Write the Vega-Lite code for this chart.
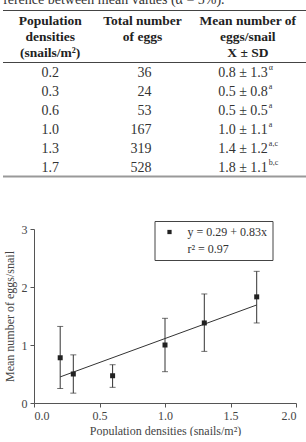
{
  "$schema": "https://vega.github.io/schema/vega-lite/v6.json",
  "padding": {"left": 2, "top": -8, "right": 0, "bottom": 0},
  "background": "white",
  "config": {
    "view": {"stroke": null},
    "font": "Liberation Serif",
    "text": {"font": "Liberation Serif"},
    "axis": {"labelFont": "Liberation Serif", "titleFont": "Liberation Serif", "grid": false, "domainColor": "#555", "tickColor": "#555", "labelColor": "#444", "titleColor": "#444", "labelFontSize": 12, "titleFontSize": 12, "titleFontWeight": "normal"},
    "legend": {"labelFont": "Liberation Serif"}
  },
  "spacing": 47,
  "vconcat": [
    {
      "spacing": 0,
      "vconcat": [
        {
          "width": 273,
          "height": 52,
          "data": {"values": [
            {"col": "c1", "head": ["Population", "densities", "(snails/m²)"]},
            {"col": "c2", "head": ["Total number", "of eggs"]},
            {"col": "c3", "head": ["Mean number of", "eggs/snail", "X ± SD"]}
          ]},
          "encoding": {
            "x": {"field": "col", "type": "nominal", "scale": {"type": "band", "domain": ["c1", "c2", "c3"], "range": [-31.5, 272.5], "paddingInner": 0, "paddingOuter": 0},
              "axis": {"orient": "top", "labels": false, "ticks": false, "domainColor": "#444", "domainWidth": 1, "title": "ference between mean values (α = 5%).", "titleX": -31.5, "titleAlign": "left", "titleAnchor": "start", "titleFontSize": 14, "titleColor": "#333", "titlePadding": 7, "titleBaseline": "alphabetic"}},
            "text": {"field": "head"}
          },
          "layer": [
            {"transform": [{"filter": "datum.col === 'c1'"}], "mark": {"type": "text", "baseline": "top", "dy": -22, "dx": -3, "fontSize": 13.5, "fontWeight": "bold", "lineHeight": 16, "color": "#222"}},
            {"transform": [{"filter": "datum.col === 'c2'"}], "mark": {"type": "text", "baseline": "top", "dy": -22, "dx": -12, "fontSize": 13.5, "fontWeight": "bold", "lineHeight": 16, "color": "#222"}},
            {"transform": [{"filter": "datum.col === 'c3'"}], "mark": {"type": "text", "baseline": "top", "dy": -22, "dx": -8, "fontSize": 13.5, "fontWeight": "bold", "lineHeight": 16, "color": "#222"}}
          ]
        },
        {
          "width": 273,
          "height": 114,
          "data": {"values": [
            {"density": "0.2", "eggs": 36, "mean": "0.8 ± 1.3", "sig": "α"},
            {"density": "0.3", "eggs": 24, "mean": "0.5 ± 0.8", "sig": "a"},
            {"density": "0.6", "eggs": 53, "mean": "0.5 ± 0.5", "sig": "a"},
            {"density": "1.0", "eggs": 167, "mean": "1.0 ± 1.1", "sig": "a"},
            {"density": "1.3", "eggs": 319, "mean": "1.4 ± 1.2", "sig": "a,c"},
            {"density": "1.7", "eggs": 528, "mean": "1.8 ± 1.1", "sig": "b,c"}
          ]},
          "encoding": {
            "y": {"field": "density", "type": "nominal", "sort": null, "scale": {"type": "band", "paddingInner": 0, "paddingOuter": 0}, "axis": null}
          },
          "layer": [
            {"mark": {"type": "text", "dx": -3, "dy": 1, "fontSize": 14, "color": "#333"},
             "encoding": {"x": {"datum": "c1", "type": "nominal", "scale": {"type": "band", "domain": ["c1", "c2", "c3"], "range": [-31.5, 272.5], "paddingInner": 0, "paddingOuter": 0}, "axis": {"orient": "top", "labels": false, "ticks": false, "title": null, "domainColor": "#444", "domainWidth": 1}},
              "text": {"field": "density"}}},
            {"mark": {"type": "text", "align": "right", "dx": -3, "dy": 1, "fontSize": 14, "color": "#333"},
             "encoding": {"x": {"datum": "c2", "type": "nominal", "axis": {"orient": "bottom", "labels": false, "ticks": false, "title": null, "domainColor": "#999", "domainWidth": 2}},
              "text": {"field": "eggs"}}},
            {"mark": {"type": "text", "align": "right", "dx": 12, "dy": 1, "fontSize": 14, "color": "#333"},
             "encoding": {"x": {"datum": "c3", "type": "nominal", "axis": null},
              "text": {"field": "mean"}}},
            {"mark": {"type": "text", "align": "left", "dx": 13, "dy": -4, "fontSize": 8, "color": "#333"},
             "encoding": {"x": {"datum": "c3", "type": "nominal", "axis": null},
              "text": {"field": "sig"}}}
          ],
          "resolve": {"axis": {"x": "independent"}}
        }
      ]
    },
    {
      "width": 262,
      "height": 174,
      "data": {"values": [
        {"d": 0.2, "mean": 0.78, "lo": 0.25, "hi": 1.32},
        {"d": 0.3, "mean": 0.5, "lo": 0.17, "hi": 0.83},
        {"d": 0.6, "mean": 0.47, "lo": 0.27, "hi": 0.66},
        {"d": 1.0, "mean": 1.0, "lo": 0.54, "hi": 1.46},
        {"d": 1.3, "mean": 1.38, "lo": 0.89, "hi": 1.88},
        {"d": 1.7, "mean": 1.83, "lo": 1.38, "hi": 2.27}
      ]},
      "layer": [
        {"mark": {"type": "rule", "color": "#333", "strokeWidth": 1},
         "encoding": {
           "x": {"field": "d", "type": "quantitative", "scale": {"domain": [0, 2], "nice": false},
             "axis": {"values": [0, 0.5, 1, 1.5, 2], "format": ".1f", "title": "Population densities (snails/m²)", "tickSize": 4, "labelPadding": 3, "titlePadding": 4}},
           "y": {"field": "lo", "type": "quantitative", "scale": {"domain": [0, 3], "nice": false},
             "axis": {"values": [0, 1, 2, 3], "format": "d", "title": "Mean number of eggs/snail", "tickSize": 4, "labelPadding": 3, "titlePadding": 5}},
           "y2": {"field": "hi"}
         }},
        {"mark": {"type": "tick", "orient": "horizontal", "size": 6, "thickness": 1, "color": "#333"},
         "encoding": {"x": {"field": "d", "type": "quantitative"}, "y": {"field": "lo", "type": "quantitative"}}},
        {"mark": {"type": "tick", "orient": "horizontal", "size": 6, "thickness": 1, "color": "#333"},
         "encoding": {"x": {"field": "d", "type": "quantitative"}, "y": {"field": "hi", "type": "quantitative"}}},
        {"data": {"values": [{"d": 0.2, "fit": 0.45}, {"d": 1.7, "fit": 1.69}]},
         "mark": {"type": "line", "color": "#333", "strokeWidth": 1},
         "encoding": {"x": {"field": "d", "type": "quantitative"}, "y": {"field": "fit", "type": "quantitative"}}},
        {"mark": {"type": "point", "filled": true, "size": 25, "opacity": 1, "color": "#222"},
         "encoding": {
           "x": {"field": "d", "type": "quantitative"},
           "y": {"field": "mean", "type": "quantitative"},
           "shape": {"datum": "y = 0.29 + 0.83x", "type": "nominal",
             "scale": {"domain": ["y = 0.29 + 0.83x", "r² = 0.97"], "range": ["square", "M0,0Z"]},
             "legend": {"orient": "none", "legendX": 120.5, "legendY": 211, "title": null, "strokeColor": "#444", "fillColor": "white", "padding": 5, "symbolSize": 18, "symbolFillColor": "#222", "symbolStrokeWidth": 0, "symbolOffset": 4, "labelFontSize": 12, "labelColor": "#333", "labelOffset": 12, "rowPadding": 5}}
         }}
      ]
    }
  ]
}
